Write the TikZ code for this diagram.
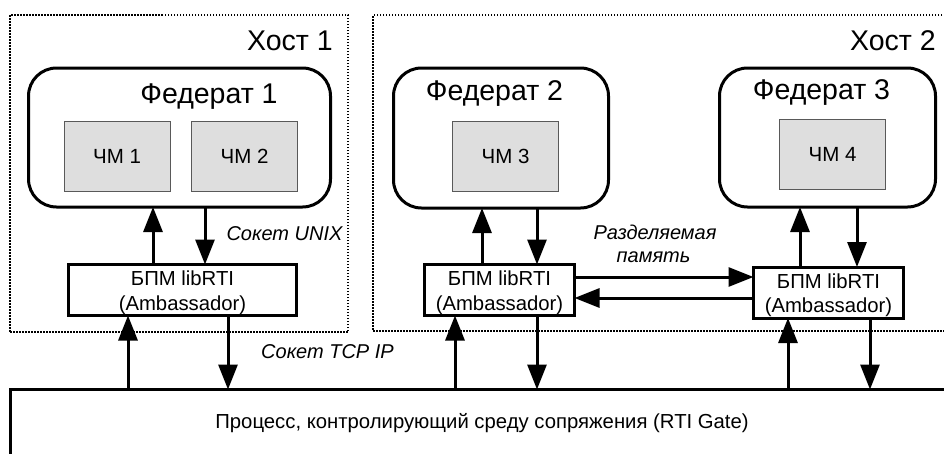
\documentclass[tikz,border=0pt]{standalone}
\usepackage{fontspec}
\setmainfont{Liberation Sans}
\usetikzlibrary{arrows.meta}
\begin{document}
\begin{tikzpicture}[x=1pt,y=-1pt,
  hostbox/.style={draw, line width=1.3pt, dash pattern=on 1.5pt off 1.5pt, inner sep=0pt, outer sep=0pt},
  fedbox/.style={draw, line width=3pt, rounded corners=28pt, inner sep=0pt, outer sep=0pt},
  modelbox/.style={draw=black!65, line width=0.9pt, fill=black!13, inner sep=0pt, outer sep=0pt, minimum width=106pt, minimum height=70pt, font=\fontsize{20.5}{24}\selectfont},
  bpmbox/.style={draw, line width=3pt, fill=white, inner sep=0pt, outer sep=0pt, minimum height=51pt},
  bpmtext/.style={inner sep=0pt, align=center, font=\fontsize{20.3}{24.5}\selectfont},
  rtibox/.style={draw, line width=3pt, inner sep=0pt, outer sep=0pt},
  arr/.style={line width=3pt, -{Triangle[width=19pt,length=25pt]}},
  bigtext/.style={font=\fontsize{28.5}{32}\selectfont, inner sep=0pt},
  lbltext/.style={font=\fontsize{20}{24}\selectfont\itshape, inner sep=0pt},
  plaintext/.style={font=\fontsize{20.3}{24}\selectfont, inner sep=0pt},
]
\useasboundingbox (0,0) rectangle (944,453);
\clip (0,0) rectangle (944,453);

% hosts
\node[hostbox, minimum width=338pt, minimum height=317pt] (h1) at (179,173.5) {};
\node[hostbox, minimum width=587pt, minimum height=316pt] (h2) at (666.5,173) {};
\node[bigtext, anchor=base east] (h1t) at (333,50) {Хост 1};
\node[bigtext, anchor=base east] (h2t) at (936,50) {Хост 2};

% federates
\node[fedbox, minimum width=302pt, minimum height=139pt] (f1) at (179.5,137.5) {};
\node[fedbox, minimum width=215pt, minimum height=140pt] (f2) at (501,138) {};
\node[fedbox, minimum width=216pt, minimum height=139pt] (f3) at (827.5,137.5) {};
\node[bigtext, anchor=base] (f1t) at (209,103) {Федерат 1};
\node[bigtext, anchor=base] (f2t) at (494.5,100) {Федерат 2};
\node[bigtext, anchor=base] (f3t) at (821.5,99) {Федерат 3};

% models
\node[modelbox] (c1) at (117,156.5) {ЧМ 1};
\node[modelbox] (c2) at (244.5,156.5) {ЧМ 2};
\node[modelbox] (c3) at (505.5,156) {ЧМ 3};
\node[modelbox] (c4) at (832.5,154.5) {ЧМ 4};

% ambassadors
\node[bpmbox, minimum width=228pt] (b1) at (182.5,290) {};
\node[bpmbox, minimum width=150pt] (b2) at (499.5,290) {};
\node[bpmbox, minimum width=150pt] (b3) at (828.5,292.5) {};
\node[bpmtext] (b1t) at ([yshift=-2.5pt]b1.center) {БПМ libRTI\\(Ambassador)};
\node[bpmtext] (b2t) at ([yshift=-2.5pt]b2.center) {БПМ libRTI\\(Ambassador)};
\node[bpmtext] (b3t) at ([yshift=-2.5pt]b3.center) {БПМ libRTI\\(Ambassador)};

% RTI gate
\node[rtibox, minimum width=960pt, minimum height=100pt] (rti) at (490,439.5) {};
\node[plaintext] (rtit) at (482,423) {Процесс, контролирующий среду сопряжения (RTI Gate)};

% arrows federate <-> ambassador
\draw[arr] (153,0 |- b1.north) -- (153,0 |- f1.south);
\draw[arr] (205,0 |- f1.south) -- (205,0 |- b1.north);
\draw[arr] (482,0 |- b2.north) -- (482,0 |- f2.south);
\draw[arr] (537,0 |- f2.south) -- (537,0 |- b2.north);
\draw[arr] (800,0 |- b3.north) -- (800,0 |- f3.south);
\draw[arr] (857,0 |- f3.south) -- (857,0 |- b3.north);

% arrows ambassador <-> RTI
\draw[arr] (128,0 |- rti.north) -- (128,0 |- b1.south);
\draw[arr] (228,0 |- b1.south) -- (228,0 |- rti.north);
\draw[arr] (455,0 |- rti.north) -- (455,0 |- b2.south);
\draw[arr] (537,0 |- b2.south) -- (537,0 |- rti.north);
\draw[arr] (788,0 |- rti.north) -- (788,0 |- b3.south);
\draw[arr] (870,0 |- b3.south) -- (870,0 |- rti.north);

% shared memory
\draw[arr] (b2.east |- 0,277) -- (b3.west |- 0,277);
\draw[arr] (b3.west |- 0,298) -- (b2.east |- 0,298);

% labels
\node[lbltext, anchor=base] (lu) at (284.5,240) {Сокет UNIX};
\node[lbltext, anchor=base] (lt) at (327.5,358) {Сокет TCP IP};
\node[lbltext, anchor=base] (lr) at (655,239) {Разделяемая};
\node[lbltext, anchor=base] (lp) at (653.5,262) {память};
\end{tikzpicture}
\end{document}
